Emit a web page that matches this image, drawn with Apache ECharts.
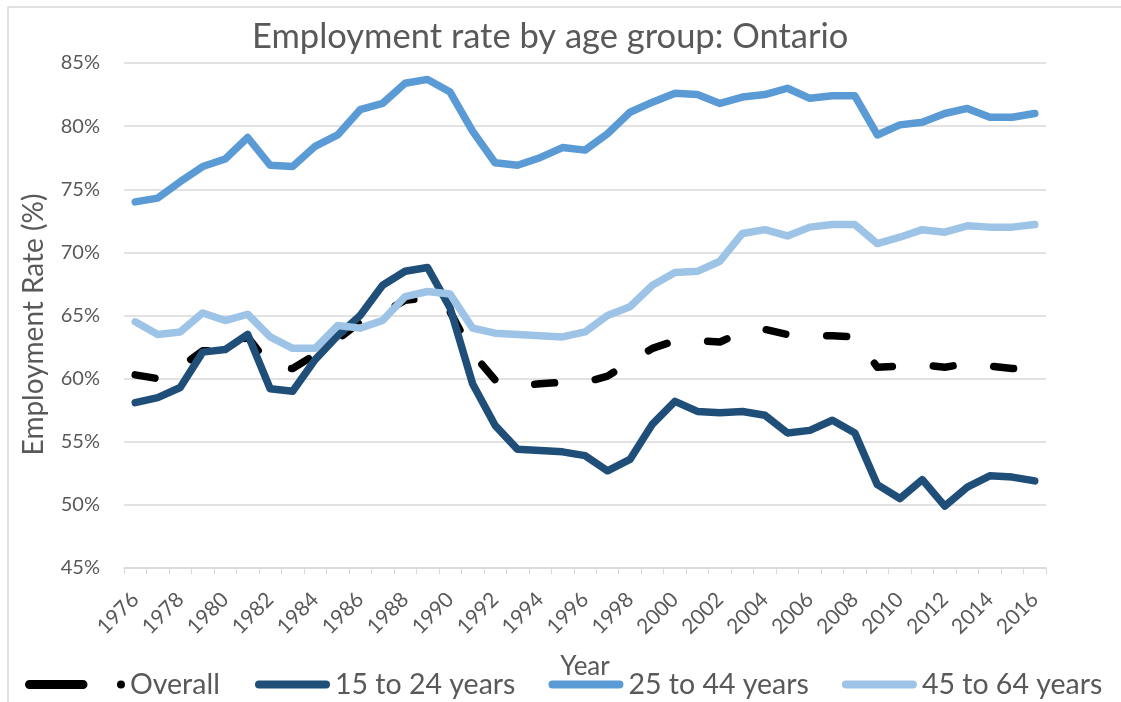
<!DOCTYPE html>
<html>
<head>
<meta charset="utf-8">
<script src="https://cdn.jsdelivr.net/npm/echarts@6/dist/echarts.min.js"></script>
<style>
  html, body { margin: 0; padding: 0; background: #fff; }
  #chart { width: 1121px; height: 702px; }
</style>
</head>
<body>
<div id="chart"></div>
<script>
const years = [];
for (let y = 1976; y <= 2016; y++) years.push(String(y));

const overall = [
  60.3, 60.0, 60.9, 62.2, 62.2, 63.3, 61.0, 60.8, 61.9, 63.1, 64.5, 65.2, 66.2, 66.4,
  65.3, 62.0, 59.9, 59.4, 59.6, 59.7, 59.7, 60.2, 61.3, 62.4,
  63.0, 63.0, 62.9, 63.7, 63.9, 63.5, 63.4, 63.4, 63.3, 60.9,
  61.0, 61.1, 60.9, 61.2, 61.0, 60.8, 60.7,
];
const age15to24 = [
  58.1, 58.5, 59.3, 62.1, 62.3, 63.5, 59.2, 59.0, 61.5, 63.4, 65.0, 67.4, 68.5, 68.8,
  65.6, 59.6, 56.3, 54.4, 54.3, 54.2, 53.9, 52.7, 53.6, 56.4,
  58.2, 57.4, 57.3, 57.4, 57.1, 55.7, 55.9, 56.7, 55.7, 51.6,
  50.5, 52.0, 49.9, 51.4, 52.3, 52.2, 51.9,
];
const age25to44 = [
  74.0, 74.3, 75.6, 76.8, 77.4, 79.1, 76.9, 76.8, 78.4, 79.3, 81.3, 81.8, 83.4, 83.7,
  82.7, 79.6, 77.1, 76.9, 77.5, 78.3, 78.1, 79.4, 81.1, 81.9,
  82.6, 82.5, 81.8, 82.3, 82.5, 83.0, 82.2, 82.4, 82.4, 79.3,
  80.1, 80.3, 81.0, 81.4, 80.7, 80.7, 81.0,
];
const age45to64 = [
  64.5, 63.5, 63.7, 65.2, 64.6, 65.1, 63.3, 62.4, 62.4, 64.2, 64.0, 64.6, 66.5, 66.9,
  66.7, 64.0, 63.6, 63.5, 63.4, 63.3, 63.7, 65.0, 65.7, 67.4,
  68.4, 68.5, 69.3, 71.5, 71.8, 71.3, 72.0, 72.2, 72.2, 70.7,
  71.2, 71.8, 71.6, 72.1, 72.0, 72.0, 72.2,
];

const seriesNames = ["Overall", "15 to 24 years", "25 to 44 years", "45 to 64 years"];
const seriesColors = ["#000000", "#1F4E79", "#5B9BD5", "#9DC3E6"];

const FONT = "Lato, 'Open Sans', sans-serif";
const GRAY = "#595959";
const GRID_GRAY = "#D9D9D9";

const barIcon = "path://M4,0 L71,0 A4,4 0 0 1 71,8 L4,8 A4,4 0 0 1 4,0 Z";
const dashDotIcon = "path://M4.5,0 L58,0 A4.5,4.5 0 0 1 58,9 L4.5,9 A4.5,4.5 0 0 1 4.5,0 Z M92,4.5 A4,4 0 1 0 100,4.5 A4,4 0 1 0 92,4.5 Z";

function lineSeries(name, data, color, dashed) {
  return {
    name,
    type: "line",
    data,
    symbol: "none",
    smooth: false,
    color,
    lineStyle: {
      color,
      width: 7.5,
      cap: "round",
      join: "round",
      type: dashed ? [20, 41] : "solid",
    },
  };
}

const legendText = { color: GRAY, fontSize: 28.5, fontFamily: FONT };

const chart = echarts.init(document.getElementById("chart"), null, { renderer: "canvas" });
chart.setOption({
  animation: false,
  backgroundColor: "#fff",
  textStyle: { fontFamily: FONT },
  title: {
    text: "Employment rate by age group: Ontario",
    left: 247,
    top: 14,
    textStyle: { color: GRAY, fontSize: 34.5, fontWeight: "normal", fontFamily: FONT },
  },
  graphic: [{
    type: "rect",
    shape: { x: 8, y: 7, width: 1200, height: 800 },
    style: { fill: "none", stroke: GRID_GRAY, lineWidth: 1.5 },
    silent: true,
  }],
  legend: [
    {
      data: [{ name: seriesNames[0], icon: dashDotIcon }],
      left: 20,
      top: 665,
      itemWidth: 100,
      itemHeight: 9,
      symbolKeepAspect: false,
      textStyle: legendText,
    },
    {
      data: seriesNames.slice(1).map((name) => ({ name, icon: barIcon })),
      left: 250,
      top: 665,
      itemWidth: 75,
      itemHeight: 8,
      itemGap: 33,
      symbolKeepAspect: false,
      textStyle: legendText,
    },
  ],
  grid: { left: 124, right: 75, top: 63, bottom: 134 },
  xAxis: {
    type: "category",
    data: years,
    boundaryGap: true,
    name: "Year",
    nameLocation: "middle",
    nameGap: 86,
    nameTextStyle: { color: GRAY, fontSize: 26, fontFamily: FONT },
    axisLine: { lineStyle: { color: GRID_GRAY, width: 1.5 } },
    axisTick: { show: true, interval: 0, length: 6, lineStyle: { color: GRID_GRAY, width: 1 } },
    axisLabel: { interval: 1, rotate: 45, color: GRAY, fontSize: 21, margin: 28, fontFamily: FONT },
  },
  yAxis: {
    type: "value",
    min: 45,
    max: 85,
    interval: 5,
    name: "Employment Rate (%)",
    nameLocation: "middle",
    nameRotate: 90,
    nameGap: 76,
    nameTextStyle: { color: GRAY, fontSize: 28, fontFamily: FONT, padding: [0, 18, 0, 0] },
    axisLine: { show: false },
    axisTick: { show: false },
    axisLabel: { formatter: "{value}%", color: GRAY, fontSize: 20, margin: 24, fontFamily: FONT },
    splitLine: { lineStyle: { color: GRID_GRAY, width: 1.5 } },
  },
  series: [
    lineSeries(seriesNames[0], overall, seriesColors[0], true),
    lineSeries(seriesNames[1], age15to24, seriesColors[1], false),
    lineSeries(seriesNames[2], age25to44, seriesColors[2], false),
    lineSeries(seriesNames[3], age45to64, seriesColors[3], false),
  ],
});
</script>
</body>
</html>
